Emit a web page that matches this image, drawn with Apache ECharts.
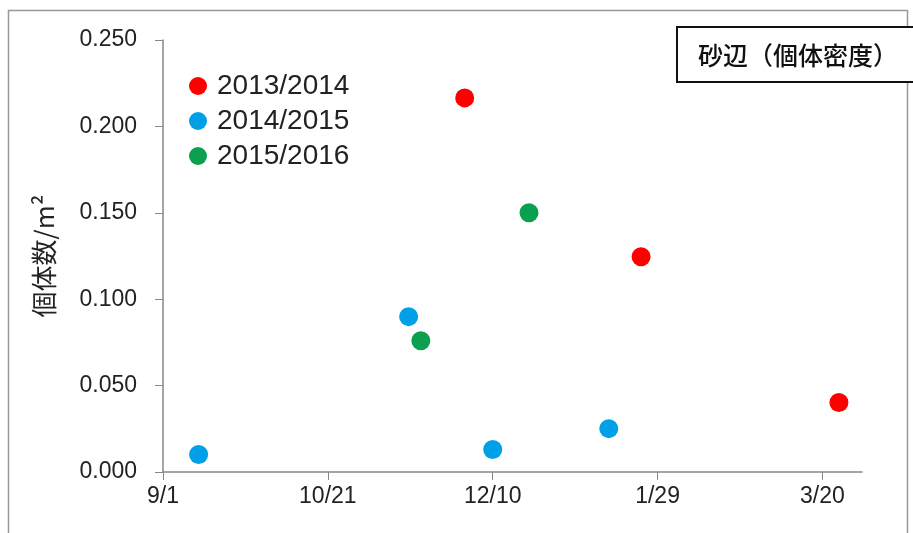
<!DOCTYPE html>
<html>
<head>
<meta charset="utf-8">
<script src="https://cdn.jsdelivr.net/npm/echarts@6/dist/echarts.min.js"></script>
<style>html,body{margin:0;padding:0;background:#fff}#c{width:913px;height:533px}</style>
</head>
<body>
<div id="c"></div>
<script>
// days counted from 9/1
const tickDays = [0, 50, 100, 150, 200];
const tickLabels = ['9/1', '10/21', '12/10', '1/29', '3/20'];
const seriesNames = ['2013/2014', '2014/2015', '2015/2016'];
const days2013 = [91.5, 145, 205];
const vals2013 = [0.2165, 0.1246, 0.0402];
const days2014 = [10.8, 74.5, 100, 135.2];
const vals2014 = [0.0101, 0.0899, 0.0130, 0.0251];
const days2015 = [78.2, 111];
const vals2015 = [0.0760, 0.150];
const colors = ['#ff0000', '#00a0e6', '#0aa050'];
const titleText = '砂辺（個体密度）';
const yName = '個体数/m²';

const font = 'Liberation Sans';
const pair = (xs, ys) => xs.map((x, i) => [x, ys[i]]);

const chart = echarts.init(document.getElementById('c'));
chart.setOption({
  animation: false,
  backgroundColor: '#fff',
  grid: { left: 163, right: 51, top: 40, bottom: 61, containLabel: false },
  xAxis: {
    type: 'value', min: 0, max: 212, interval: 50,
    axisLine: { show: true, onZero: false, lineStyle: { color: '#888', width: 1.5 } },
    axisTick: { show: true, length: 8, lineStyle: { color: '#888' }, customValues: tickDays },
    axisLabel: {
      customValues: tickDays,
      color: '#222', fontFamily: font, fontSize: 23, margin: 13,
      formatter: v => { const i = tickDays.indexOf(v); return i >= 0 ? tickLabels[i] : ''; }
    },
    splitLine: { show: false }
  },
  yAxis: {
    type: 'value', min: 0, max: 0.25, interval: 0.05,
    name: yName, nameLocation: 'middle', nameGap: 106, nameRotate: 90,
    nameTextStyle: { color: '#222', fontFamily: 'Noto Sans CJK JP', fontSize: 26 },
    axisLine: { show: true, lineStyle: { color: '#888', width: 1.5 } },
    axisTick: { show: true, length: 8, lineStyle: { color: '#888' } },
    axisLabel: { color: '#222', fontFamily: font, fontSize: 23, margin: 26, formatter: v => v.toFixed(3) },
    splitLine: { show: false }
  },
  legend: {
    orient: 'vertical', left: 184, top: 67, itemGap: 7,
    icon: 'circle', itemWidth: 28, itemHeight: 18,
    textStyle: { color: '#222', fontFamily: font, fontSize: 28 },
    data: seriesNames
  },
  graphic: [
    { type: 'rect', shape: { x: 8.5, y: 10.5, width: 899, height: 540 }, style: { fill: 'none', stroke: '#999', lineWidth: 1.5 }, silent: true },
    { type: 'rect', shape: { x: 677, y: 27, width: 250, height: 55 }, style: { fill: '#fff', stroke: '#111', lineWidth: 2 }, z: 100 },
    { type: 'text', x: 798, y: 55, z: 101, style: { text: titleText, fill: '#111', font: '500 25px "Noto Sans CJK JP"', align: 'center', verticalAlign: 'middle' } }
  ],
  series: [
    { name: seriesNames[0], type: 'scatter', symbolSize: 19, itemStyle: { color: colors[0], opacity: 1 }, data: pair(days2013, vals2013) },
    { name: seriesNames[1], type: 'scatter', symbolSize: 19, itemStyle: { color: colors[1], opacity: 1 }, data: pair(days2014, vals2014) },
    { name: seriesNames[2], type: 'scatter', symbolSize: 19, itemStyle: { color: colors[2], opacity: 1 }, data: pair(days2015, vals2015) }
  ]
});
</script>
</body>
</html>
